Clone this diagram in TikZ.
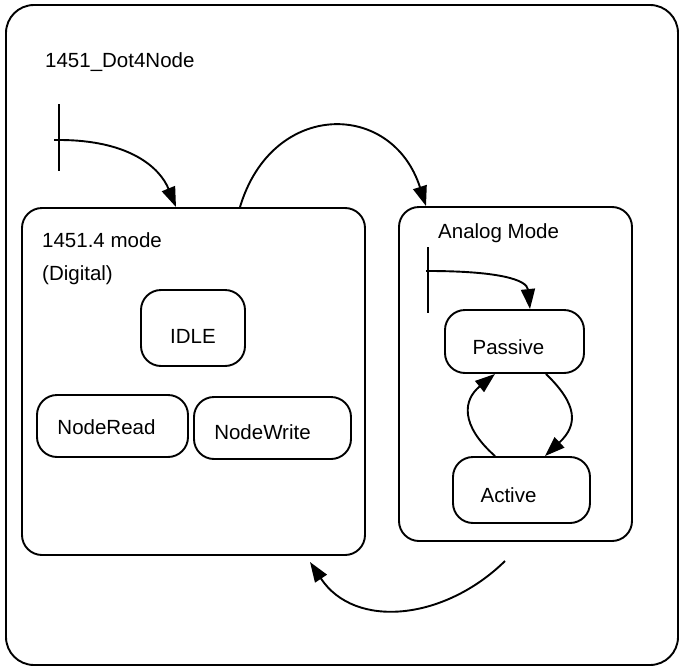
\documentclass[tikz,border=0pt]{standalone}
\usepackage{fontspec}
\setmainfont{Liberation Sans}
\usetikzlibrary{arrows.meta}
\begin{document}
\begin{tikzpicture}[x=1pt,y=-1pt,
  every node/.style={font=\fontsize{20.5}{24}\selectfont},
  ln/.style={line width=1.9pt, line join=round},
  arr/.style={ln, -{Triangle[length=20pt,width=14pt]}},
  statebox/.style={ln, draw, rectangle, rounded corners=20pt, inner sep=0pt},
  txt/.style={anchor=west, inner sep=0pt}]
\useasboundingbox (0,0) rectangle (681,667);

% outer state
\node[statebox, rounded corners=28pt, minimum width=672pt, minimum height=660pt] (outer) at (342,335) {};
\node[txt] (outerLbl) at (45,62) {1451\_Dot4Node};

% digital composite state
\node[statebox, minimum width=343pt, minimum height=347pt] (digital) at (193.5,381.5) {};
\node[txt] (digLbl1) at (42,240) {1451.4 mode};
\node[txt] (digLbl2) at (42,275) {(Digital)};
\node[statebox, minimum width=104pt, minimum height=76pt, label={[yshift=-8pt]center:IDLE}] (idle) at (193,328) {};
\node[statebox, minimum width=151pt, minimum height=62pt, label={[xshift=-6pt,yshift=-1pt]center:NodeRead}] (nread) at (112.5,426) {};
\node[statebox, minimum width=157pt, minimum height=62pt, label={[xshift=-10pt,yshift=-4pt]center:NodeWrite}] (nwrite) at (272.5,428) {};

% analog composite state
\node[statebox, minimum width=233pt, minimum height=334pt] (analog) at (515.5,374) {};
\node[txt] (anaLbl) at (438,233) {Analog Mode};
\node[statebox, minimum width=139pt, minimum height=63pt, label={[xshift=-6pt,yshift=-6pt]center:Passive}] (passive) at (514.5,341.5) {};
\node[statebox, minimum width=137pt, minimum height=66pt, label={[xshift=-13pt,yshift=-5pt]center:Active}] (active) at (521.5,490) {};

% initial pseudo-states
\coordinate (initTop) at (59,104);
\coordinate (initBot) at (59,171);
\coordinate (initTick) at (54,140);
\coordinate (initJoin) at (59,140);
\draw[ln] (initTop) -- (initBot);
\draw[arr] (initTick) -- (initJoin) .. controls (130,140) and (160,168) .. (digital.north -| 176,0);

\coordinate (ainitTop) at (428,247);
\coordinate (ainitBot) at (428,313);
\coordinate (ainitTick) at (426,271);
\coordinate (ainitJoin) at (428,271);
\draw[ln] (ainitTop) -- (ainitBot);
\draw[arr] (ainitTick) -- (ainitJoin) .. controls (500,271) and (527,280) .. (passive.north -| 530,0);

% transitions between the modes
\coordinate (backStart) at (505,561);
\coordinate (backEnd) at (310,562);
\draw[arr] (digital.north -| 240,0) .. controls (272,100) and (392,100) .. (analog.north -| 426,0);
\draw[arr] (backStart) .. controls (445,620) and (355,630) .. (backEnd);

% transitions inside the analog mode
\draw[arr] (passive.south -| 546,0) .. controls (578,405) and (578,425) .. (active.north -| 545,0);
\draw[arr] (active.north -| 495,0) .. controls (460,425) and (463,400) .. (passive.south -| 495,0);
\end{tikzpicture}
\end{document}
